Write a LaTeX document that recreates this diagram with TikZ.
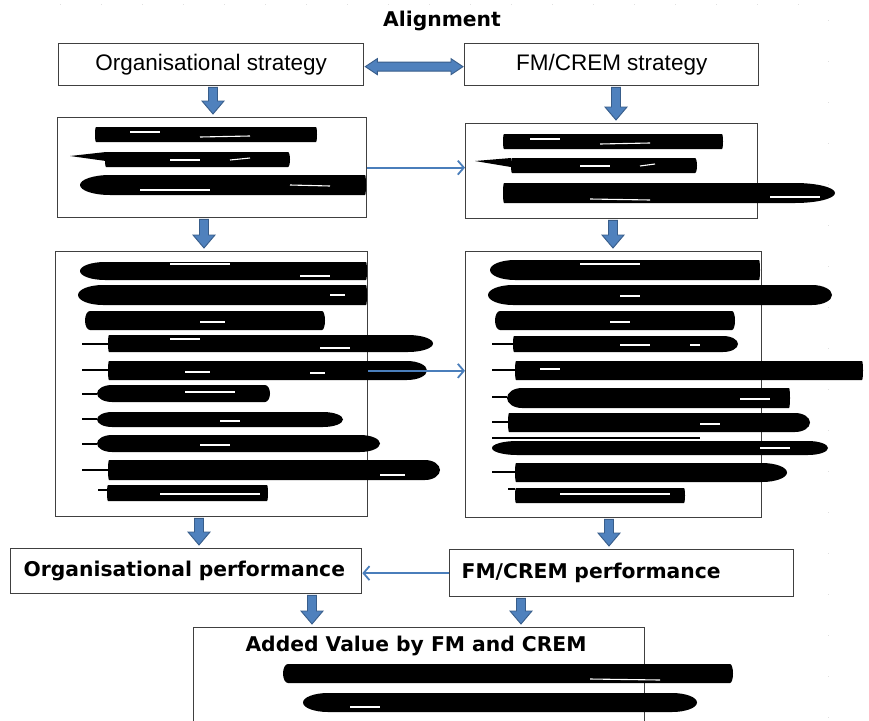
\documentclass[tikz,border=0pt]{standalone}
\usepackage{fontspec}
\setmainfont{Liberation Sans}
\newfontfamily\vfont{DejaVu Sans}
\usetikzlibrary{arrows.meta,calc}
\definecolor{abl}{HTML}{4F81BD}
\definecolor{abd}{HTML}{385D8A}
\definecolor{thinb}{HTML}{4A7EBB}
\tikzset{
  box/.style={draw=black!75, line width=1.3pt, fill=white, rectangle, inner sep=0pt, anchor=north west},
  barrow/.style={fill=abl, draw=abd, line width=0.9pt, line join=miter},
  tarrow/.style={draw=thinb, line width=2pt, -{Straight Barb[length=6pt,width=14pt,line width=1.8pt]}},
  lbl/.style={font=\fontsize{22.5}{27}\selectfont},
  blbl/.style={font=\vfont\bfseries\fontsize{20.3}{24}\selectfont},
  streak/.style={draw=white, line width=1.1pt},
}
% block arrow down: x, from node, to node
\newcommand\bdown[3]{%
  \path[barrow] let \p1=(#2.south), \p2=(#3.north) in
    (#1pt-4.5pt,\y1-1pt) -- (#1pt+4.5pt,\y1-1pt) -- (#1pt+4.5pt,\y2+16pt) -- (#1pt+11pt,\y2+16pt)
    -- (#1pt,\y2+3pt) -- (#1pt-11pt,\y2+16pt) -- (#1pt-4.5pt,\y2+16pt) -- cycle;}
% redaction blob: x1 x2 y1 y2 rleft rright
\newcommand\blob[6]{%
  \fill[black] (#1+#5,#3) -- (#2-#6,#3)
    arc[start angle=-90,end angle=90,x radius=#6,y radius={(#4-#3)/2}]
    -- (#1+#5,#4)
    arc[start angle=90,end angle=270,x radius=#5,y radius={(#4-#3)/2}] -- cycle;}
\newcommand\stub[3]{\draw[black, line width=1.6pt] (#1,#3) -- (#2,#3);}
\begin{document}
\begin{tikzpicture}[x=1pt,y=-1pt]
\useasboundingbox (0,0) rectangle (869,720);
\clip (0,0) rectangle (869,720);
\fill[white] (0,0) rectangle (869,720);
\draw[black!12, line width=0.8pt, dash pattern=on 1pt off 40pt] (60,4) -- (830,4);
\draw[black!12, line width=0.8pt, dash pattern=on 1pt off 40pt] (828,20) -- (828,720);

% title
\node[blbl] (align) at (442,21) {Alignment};

% boxes
\node[box, lbl, minimum width=305pt, minimum height=42pt] (orgS) at (58,43) {Organisational strategy};
\node[box, lbl, minimum width=294pt, minimum height=42pt] (fmS) at (464,43) {FM/CREM strategy};
\node[box, minimum width=309pt, minimum height=100pt] (b2L) at (57,117) {};
\node[box, minimum width=292pt, minimum height=95pt] (b2R) at (465,123) {};
\node[box, minimum width=312pt, minimum height=265pt] (b3L) at (55,251) {};
\node[box, minimum width=296pt, minimum height=266pt] (b3R) at (465,251) {};
\node[box, blbl, text width=325pt, align=left, inner xsep=13pt, minimum height=45pt] (orgP) at (10,548) {Organisational performance};
\node[box, blbl, text width=320pt, align=left, inner xsep=12pt, minimum height=47pt] (fmP) at (449,549) {FM/CREM performance};
\node[box, minimum width=451pt, minimum height=120pt] (av) at (193,627) {};
\node[blbl] (avt) at (416,646) {Added Value by FM and CREM};

% redaction blobs, box 2 left
\blob{95}{317}{127}{142}{1}{1}
\fill[black] (70,156) -- (106,152) -- (106,161) -- cycle;
\blob{105}{290}{152}{167}{1}{2}
\blob{80}{366}{175}{195}{30}{1}
\draw[streak] (130,132) -- (160,132); \draw[streak] (200,137) -- (250,136);
\draw[streak] (170,160) -- (200,160); \draw[streak] (230,160) -- (250,158);
\draw[streak] (140,190) -- (210,190); \draw[streak] (290,185) -- (330,186);
% box 2 right
\blob{503}{723}{134}{149}{1}{1}
\fill[black] (475,161) -- (511,158) -- (511,167) -- cycle;
\blob{511}{697}{158}{173}{1}{2}
\blob{503}{835}{183}{203}{1}{40}
\draw[streak] (530,139) -- (560,139); \draw[streak] (600,144) -- (650,143);
\draw[streak] (580,166) -- (610,166); \draw[streak] (640,166) -- (655,164);
\draw[streak] (590,199) -- (650,200); \draw[streak] (770,197) -- (820,197);

% box 3 left
\blob{80}{367}{262}{280}{25}{1}
\blob{78}{367}{285}{305}{25}{1}
\blob{85}{325}{311}{330}{5}{3}
\stub{82}{108}{344}\blob{108}{433}{335}{352}{1}{25}
\stub{82}{108}{370}\blob{108}{427}{361}{380}{1}{20}
\stub{82}{97}{394}\blob{97}{270}{385}{402}{15}{5}
\stub{82}{97}{419}\blob{97}{343}{412}{427}{15}{20}
\stub{82}{97}{444}\blob{97}{380}{435}{452}{15}{20}
\stub{82}{108}{470}\blob{108}{440}{460}{480}{1}{15}
\stub{98}{108}{490}\blob{107}{268}{485}{501}{1}{1}
\draw[streak] (170,264) -- (230,264); \draw[streak] (300,276) -- (330,276);
\draw[streak] (330,295) -- (345,295); \draw[streak] (200,322) -- (225,322);
\draw[streak] (170,339) -- (200,339); \draw[streak] (320,348) -- (350,348);
\draw[streak] (185,372) -- (210,372); \draw[streak] (310,373) -- (325,373);
\draw[streak] (185,392) -- (235,392); \draw[streak] (220,421) -- (240,421);
\draw[streak] (200,445) -- (230,445); \draw[streak] (380,475) -- (405,475);
\draw[streak] (160,494) -- (260,494);
% box 3 right
\blob{490}{760}{260}{280}{25}{1}
\blob{488}{832}{285}{305}{25}{20}
\blob{495}{735}{311}{330}{5}{3}
\stub{492}{513}{344}\blob{513}{738}{336}{352}{1}{15}
\stub{492}{515}{370}\blob{515}{863}{361}{380}{1}{1}
\stub{492}{507}{397}\blob{507}{790}{388}{408}{15}{1}
\stub{492}{508}{422}\blob{508}{810}{413}{432}{1}{15}
\stub{492}{700}{438}\blob{492}{828}{441}{455}{25}{20}
\stub{492}{515}{472}\blob{515}{787}{463}{482}{1}{25}
\stub{508}{515}{489}\blob{515}{685}{488}{503}{1}{1}
\draw[streak] (580,264) -- (640,264); \draw[streak] (620,296) -- (640,296);
\draw[streak] (610,322) -- (630,322); \draw[streak] (620,345) -- (650,345);
\draw[streak] (690,345) -- (700,345); \draw[streak] (540,369) -- (560,369);
\draw[streak] (740,399) -- (770,399); \draw[streak] (700,424) -- (720,424);
\draw[streak] (760,448) -- (790,448);
\draw[streak] (560,494) -- (670,494);

% added value blobs
\blob{283}{733}{664}{683}{5}{3}
\blob{303}{697}{693}{712}{25}{25}
\draw[streak] (590,679) -- (660,680); \draw[streak] (350,707) -- (380,707);

% block arrows
\path[barrow] let \p1=(orgS.east), \p2=(fmS.west) in
  (\x1+1pt,\y1-2pt) -- (\x1+13pt,\y1+6pt) -- (\x1+13pt,\y1+2.5pt) -- (\x2-13pt,\y1+2.5pt)
  -- (\x2-13pt,\y1+6pt) -- (\x2-1pt,\y1-2pt) -- (\x2-13pt,\y1-10pt) -- (\x2-13pt,\y1-6.5pt)
  -- (\x1+13pt,\y1-6.5pt) -- (\x1+13pt,\y1-10pt) -- cycle;
\bdown{213}{orgS}{b2L}
\bdown{616}{fmS}{b2R}
\bdown{204}{b2L}{b3L}
\bdown{613}{b2R}{b3R}
\bdown{199}{b3L}{orgP}
\bdown{609}{b3R}{fmP}
\bdown{312}{orgP}{av}
\bdown{521}{fmP}{av}

% thin arrows
\draw[tarrow] (b2L.east) -- (b2L.east -| b2R.west);
\coordinate (s3) at ($(b3L.north east)!0.45!(b3L.south east)$);
\draw[tarrow] (s3) -- (s3 -| b3R.west);
\draw[tarrow] (fmP.west) -- (fmP.west -| orgP.east);
\end{tikzpicture}
\end{document}
